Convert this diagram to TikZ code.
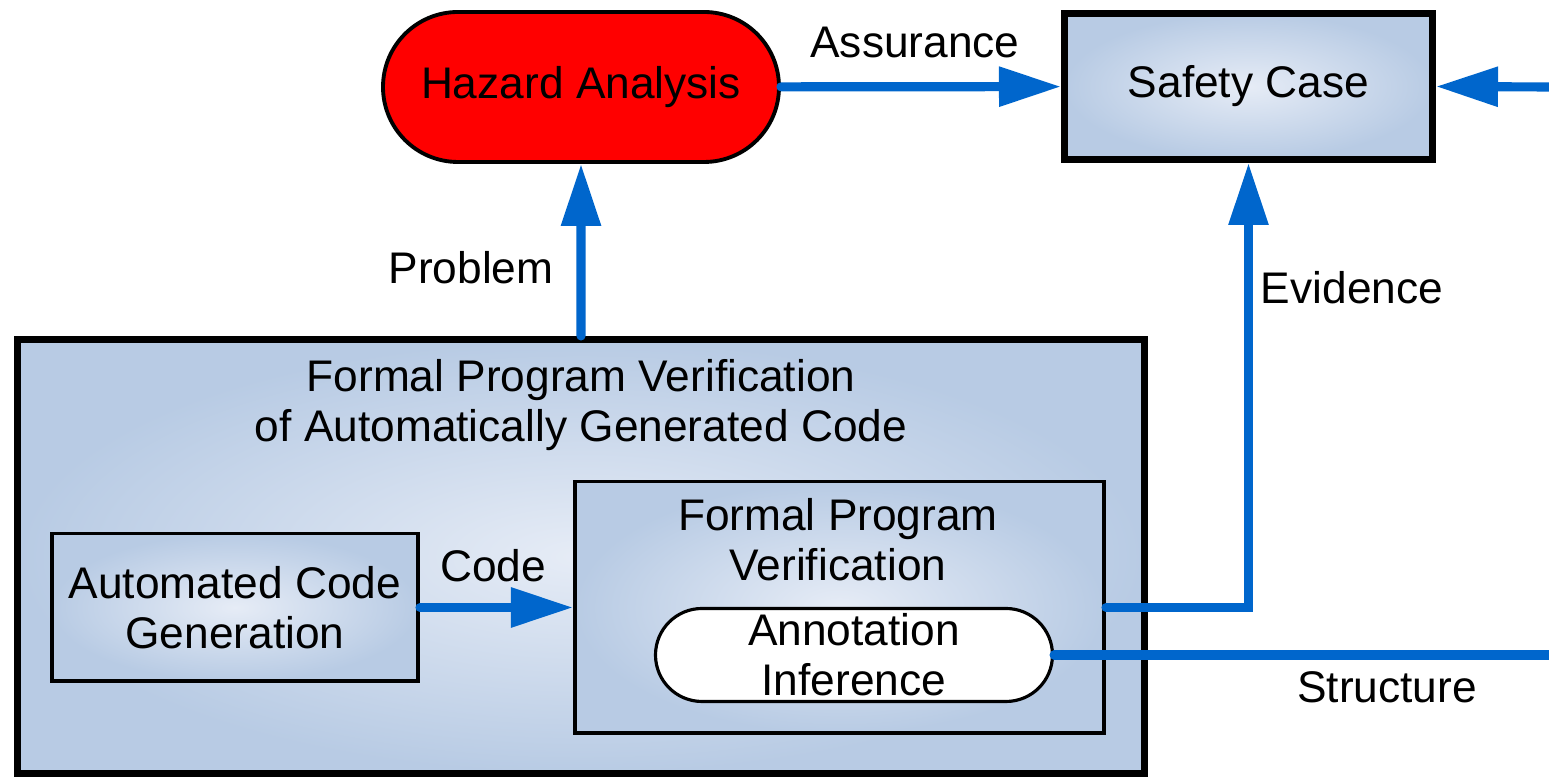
\documentclass[tikz,border=0pt]{standalone}
\usepackage{fontspec}
\setmainfont{Liberation Sans}
\usepackage{tikz}
\usetikzlibrary{arrows.meta}
\usetikzlibrary{shapes.misc}
\usepackage{xcolor}
\definecolor{ColFlow}{RGB}{0,102,204}
\definecolor{ColIn}{RGB}{230,236,246}
\definecolor{ColOut}{RGB}{184,203,228}
\tikzstyle{TextDiag}=[font=\fontsize{12.6}{14.2}\selectfont,align=center,inner sep=0pt]
\tikzstyle{NodeRed}=[rounded rectangle,draw=black,fill=red,line width=1.1pt,
minimum width=3.96cm,minimum height=1.5cm,TextDiag]
\tikzstyle{NodeBox}=[rectangle,draw=black,inner color=ColIn,outer color=ColOut,
line width=1pt,TextDiag]
\tikzstyle{NodeWhite}=[rounded rectangle,draw=black,fill=white,line width=0.9pt,
minimum width=3.97cm,minimum height=0.93cm,TextDiag]
\tikzstyle{EdgeFlow}=[ColFlow,line width=2.6pt,line cap=round,
-{Triangle[length=6.2mm,width=3.8mm]}]
\tikzstyle{EdgePlain}=[ColFlow,line width=2.6pt,line cap=round]

\begin{document}
\begin{tikzpicture}
        \useasboundingbox (0,0) rectangle (15.49,7.77);
        \node[NodeRed](hazard)at(5.81,6.90){Hazard Analysis};
        \node[NodeBox,line width=2pt,minimum width=3.68cm,minimum height=1.46cm](safety)at(12.485,6.905){Safety Case};
        \node[NodeBox,line width=2pt,minimum width=11.27cm,minimum height=4.34cm](outer)at(5.81,2.205){};
        \node[TextDiag](title)at(5.81,3.72){Formal Program Verification\\of Automatically Generated Code};
        \node[NodeBox,minimum width=3.665cm,minimum height=1.475cm](acg)at(2.35,1.695){Automated Code\\Generation};
        \node[NodeBox,minimum width=5.295cm,minimum height=2.515cm](fpv)at(8.395,1.695){};
        \node[TextDiag](fpvtext)at(8.38,2.37){Formal Program\\Verification};
        \node[NodeWhite](annot)at(8.54,1.22){Annotation\\Inference};
        \coordinate(rightin)at(15.49,6.90);
        \coordinate(rightout)at(15.49,1.22);
        \draw[EdgeFlow](hazard)--(safety);
        \draw[EdgeFlow](outer)--(hazard);
        \draw[EdgeFlow](fpv.east)-|(safety.south);
        \draw[EdgeFlow](rightin)--(safety.east);
        \draw[EdgePlain](annot.east)--(rightout);
        \draw[EdgeFlow](acg.east)--(fpv.west);
        \node[TextDiag](assurance)at(9.15,7.35){Assurance};
        \node[TextDiag](problem)at(4.71,5.09){Problem};
        \node[TextDiag](evidence)at(13.52,4.89){Evidence};
        \node[TextDiag](structure)at(13.87,0.90){Structure};
        \node[TextDiag](code)at(4.93,2.11){Code};
    \end{tikzpicture}
\end{document}
